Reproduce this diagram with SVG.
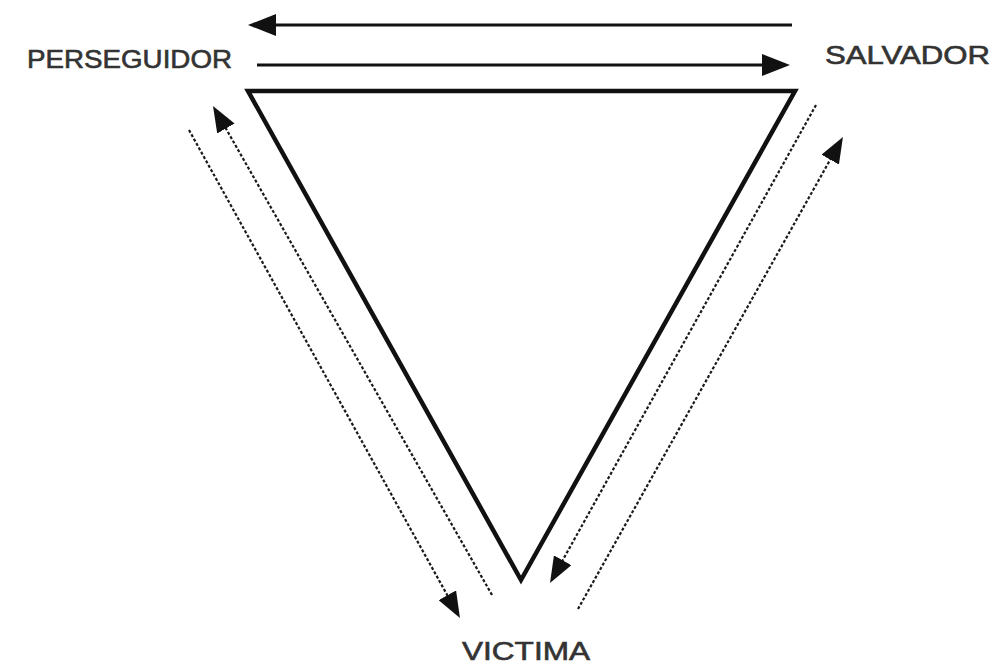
<svg xmlns="http://www.w3.org/2000/svg" width="992" height="664" viewBox="0 0 992 664">
<style>
.lbl{font-family:"Liberation Sans","DejaVu Sans",sans-serif;font-size:25px;fill:#333;stroke:#333;stroke-width:0.6;}
.solid{stroke:#111;stroke-width:3;fill:none;}
.dash{stroke:#1a1a1a;stroke-width:2.2;stroke-dasharray:3 2;fill:none;}
</style>
<defs>
<marker id="headBig" viewBox="0 0 28 22" refX="2" refY="11" markerWidth="28" markerHeight="22" markerUnits="userSpaceOnUse" orient="auto">
<path d="M0,0 L28,11 L0,22 z" fill="#111"/>
</marker>
<marker id="headSmall" viewBox="0 0 26 20" refX="2" refY="10" markerWidth="26" markerHeight="20" markerUnits="userSpaceOnUse" orient="auto">
<path d="M0,0 L26,10 L0,20 z" fill="#111"/>
</marker>
</defs>
<rect width="992" height="664" fill="#fff"/>
<g id="triangle">
<polygon points="248,91 795,91 521,580" fill="none" stroke="#111" stroke-width="4.5" stroke-linejoin="miter"/>
</g>
<g id="perseguidor"><text class="lbl" x="27" y="68" textLength="205" lengthAdjust="spacingAndGlyphs">PERSEGUIDOR</text></g>
<g id="salvador"><text class="lbl" x="825" y="64" textLength="165" lengthAdjust="spacingAndGlyphs">SALVADOR</text></g>
<g id="victima"><text class="lbl" x="462" y="660" textLength="128" lengthAdjust="spacingAndGlyphs">VICTIMA</text></g>
<g id="connectors">
<line class="solid" x1="792" y1="25" x2="274" y2="25" marker-end="url(#headBig)"/>
<line class="solid" x1="257" y1="65" x2="764" y2="65" marker-end="url(#headBig)"/>
<line class="dash" x1="189" y1="130" x2="448.3" y2="597" marker-end="url(#headSmall)"/>
<line class="dash" x1="492" y1="595" x2="224.9" y2="126.8" marker-end="url(#headSmall)"/>
<line class="dash" x1="816" y1="105" x2="561.7" y2="562" marker-end="url(#headSmall)"/>
<line class="dash" x1="578" y1="609" x2="831.2" y2="157.9" marker-end="url(#headSmall)"/>
</g>
</svg>
